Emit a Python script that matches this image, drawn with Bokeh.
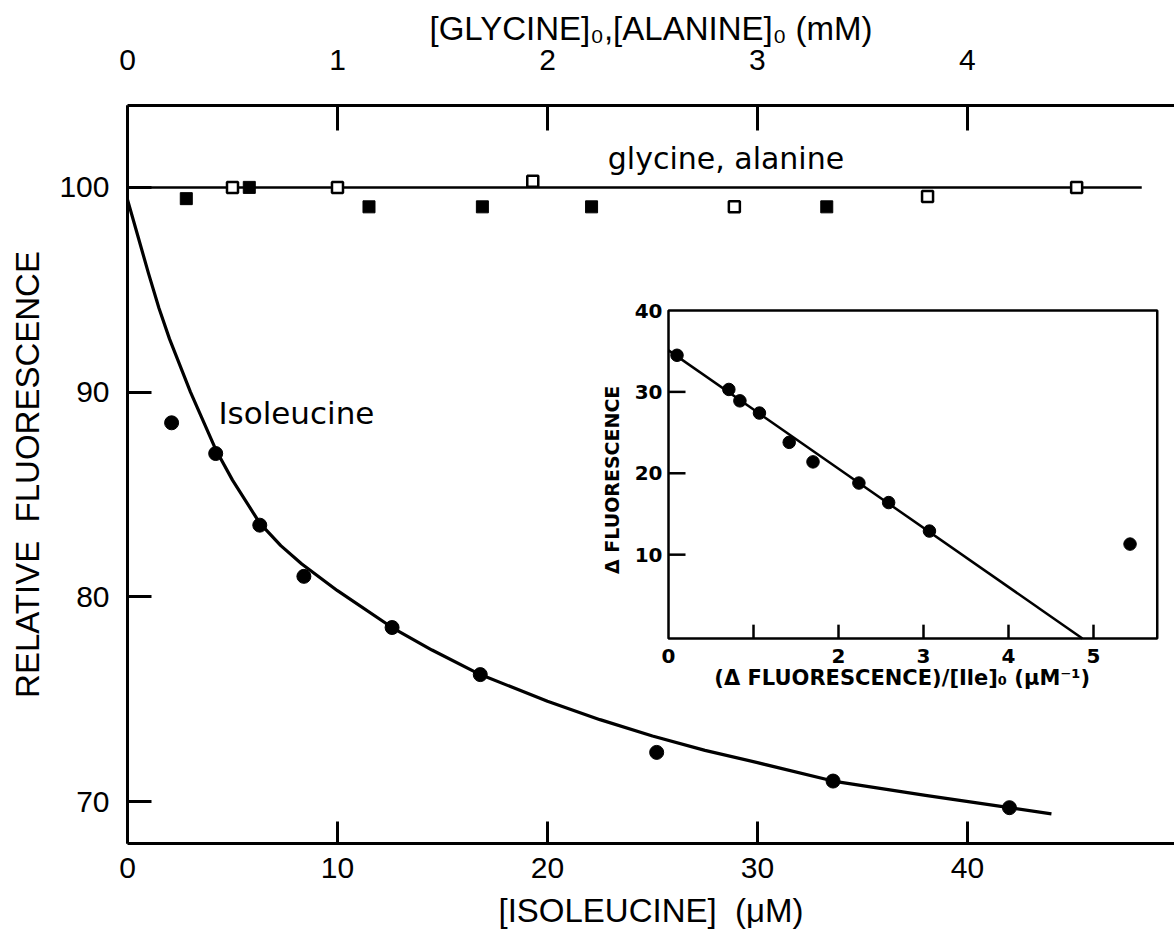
import math
from bokeh.plotting import figure
from bokeh.models import Range1d, LinearAxis, FixedTicker
from bokeh.embed import file_html
from bokeh.resources import INLINE
from bokeh.core.properties import value

# ---------------- data ----------------
# main plot: isoleucine titration (uM, relative fluorescence)
ile_conc = [2.1, 4.2, 6.3, 8.4, 12.6, 16.8, 25.2, 33.6, 42.0]
ile_fluor = [88.5, 87.0, 83.5, 81.0, 78.5, 76.2, 72.4, 71.0, 69.7]

# drawn fit curve through isoleucine data
curve_conc = [0, 0.5, 1, 1.5, 2, 3, 4.2, 5, 6.3, 7.3, 8.3, 10, 12.6, 14.5, 16.8, 20, 22.5,
              25, 27.5, 30, 33.6, 38, 42, 44]
curve_fluor = [99.4, 97.6, 95.8, 94.1, 92.6, 90.0, 87.2, 85.7, 83.6, 82.5, 81.6, 80.3, 78.5,
               77.4, 76.2, 74.9, 74.0, 73.2, 72.5, 71.9, 71.0, 70.3, 69.7, 69.4]

# glycine / alanine (mM, relative fluorescence)
gly_filled_mM = [0.28, 0.58, 1.15, 1.69, 2.21, 3.33]
gly_filled_val = [99.45, 100.0, 99.05, 99.05, 99.05, 99.05]
gly_open_mM = [0.50, 1.00, 1.93, 2.89, 3.81, 4.52]
gly_open_val = [100.0, 100.0, 100.3, 99.05, 99.55, 100.0]
gly_line_mM = [0.0, 4.83]
gly_line_val = [100.0, 100.0]

# tick values
bottom_ticks = [0, 10, 20, 30, 40]
top_ticks = [0, 1, 2, 3, 4]
left_ticks = [70, 80, 90, 100]

# inset: d-fluorescence vs d-fluorescence/[Ile]0
inset_x = [0.10, 0.71, 0.84, 1.07, 1.42, 1.70, 2.24, 2.59, 3.07, 5.43]
inset_y = [34.5, 30.3, 28.9, 27.4, 23.8, 21.4, 18.8, 16.4, 12.9, 11.3]
inset_fit_x = [0.0, 4.87]
inset_fit_y = [35.1, -0.3]
inset_xlim = [0.0, 5.75]
inset_ylim = [-0.3, 40.0]
inset_xticks = [1, 2, 3, 4, 5]
inset_xtick_labels = [0, 2, 3, 4, 5]
inset_yticks = [10, 20, 30]
inset_ytick_labels = [10, 20, 30, 40]

# ---------------- figure ----------------
MAIN_FONT = "Liberation Sans"
TEXT_FONT = "DejaVu Sans"

p = figure(width=1174, height=941,
           x_range=Range1d(0, 49.86), y_range=Range1d(67.95, 104.0),
           output_backend="svg", toolbar_location=None,
           min_border_left=127, min_border_right=0,
           min_border_top=105, min_border_bottom=98)
p.extra_x_ranges = {"mM": Range1d(0, 4.986), "ix": Range1d(-6.365, 5.953)}
p.extra_y_ranges = {"iy": Range1d(-25.49, 65.19)}
p.outline_line_color = None
p.grid.visible = False
p.background_fill_color = "white"
p.border_fill_color = "white"


def style_axis(ax, tick_in, label_standoff, axis_label_standoff):
    ax.axis_line_width = 3
    ax.axis_line_color = "black"
    ax.major_tick_line_width = 3
    ax.major_tick_line_color = "black"
    ax.major_tick_in = tick_in
    ax.major_tick_out = 0
    ax.minor_tick_line_color = None
    ax.major_label_text_font = MAIN_FONT
    ax.major_label_text_font_size = "30px"
    ax.major_label_text_color = "black"
    ax.major_label_standoff = label_standoff
    ax.axis_label_text_font = MAIN_FONT
    ax.axis_label_text_font_size = "33px"
    ax.axis_label_text_font_style = "normal"
    ax.axis_label_text_color = "black"
    ax.axis_label_standoff = axis_label_standoff


xb = p.xaxis[0]
xb.ticker = FixedTicker(ticks=bottom_ticks)
xb.axis_label = "[ISOLEUCINE]\u00a0\u00a0(μM)"
style_axis(xb, 22, 14, 11)

yl = p.yaxis[0]
yl.ticker = FixedTicker(ticks=left_ticks)
yl.axis_label = "RELATIVE\u00a0\u00a0FLUORESCENCE"
style_axis(yl, 24, 18, 10)

xt = LinearAxis(x_range_name="mM", ticker=FixedTicker(ticks=top_ticks),
                axis_label="[GLYCINE]₀,[ALANINE]₀ (mM)")
style_axis(xt, 25, 36, 0)
p.add_layout(xt, "above")

# ---------------- main data ----------------
p.line(gly_line_mM, gly_line_val, x_range_name="mM", line_color="black", line_width=2.5)
p.scatter(gly_filled_mM, gly_filled_val, x_range_name="mM", marker="square", size=12,
          fill_color="black", line_color="black", line_width=1)
p.scatter(gly_open_mM, gly_open_val, x_range_name="mM", marker="square", size=11,
          fill_color="white", line_color="black", line_width=2.5)

p.line(curve_conc, curve_fluor, line_color="black", line_width=3.2, line_join="round")
p.scatter(ile_conc, ile_fluor, marker="circle", size=14, fill_color="black", line_color="black")

p.text(x=[28.5], y=[101.4], text=["glycine, alanine"], text_font=value(TEXT_FONT),
       text_font_size="30px", text_align="center", text_baseline="alphabetic", text_color="black")
p.text(x=[4.33], y=[89.0], text=["Isoleucine"], text_font=value(TEXT_FONT),
       text_font_size="31px", text_align="left", text_baseline="middle", text_color="black")

# ---------------- inset (drawn on its own ranges) ----------------
IR = dict(x_range_name="ix", y_range_name="iy")
p.quad(left=[inset_xlim[0]], right=[inset_xlim[1]], bottom=[inset_ylim[0]], top=[inset_ylim[1]],
       fill_color="white", line_color="black", line_width=2.5, **IR)
p.segment(x0=inset_xticks, x1=inset_xticks,
          y0=[inset_ylim[0]] * len(inset_xticks), y1=[inset_ylim[0] + 1.7] * len(inset_xticks),
          line_color="black", line_width=2.5, **IR)
p.segment(x0=[inset_xlim[0]] * len(inset_yticks), x1=[inset_xlim[0] + 0.2] * len(inset_yticks),
          y0=inset_yticks, y1=inset_yticks, line_color="black", line_width=2.5, **IR)
p.line(inset_fit_x, inset_fit_y, line_color="black", line_width=2.5, **IR)
p.scatter(inset_x, inset_y, marker="circle", size=12.5, fill_color="black", line_color="black", **IR)

p.text(x=inset_xtick_labels, y=[-2.5] * len(inset_xtick_labels),
       text=[str(v) for v in inset_xtick_labels], text_font=value(TEXT_FONT),
       text_font_style="bold", text_font_size="20px", text_align="center",
       text_baseline="middle", text_color="black", **IR)
p.text(x=[inset_xlim[0]] * len(inset_ytick_labels), y=inset_ytick_labels,
       text=[str(v) for v in inset_ytick_labels], x_offset=-6, text_font=value(TEXT_FONT),
       text_font_style="bold", text_font_size="20px", text_align="right",
       text_baseline="middle", text_color="black", **IR)
p.text(x=[-0.66], y=[19.6], text=["Δ  FLUORESCENCE"], angle=math.pi / 2,
       text_font=value(TEXT_FONT), text_font_style="bold", text_font_size="19px",
       text_align="center", text_baseline="middle", text_color="black", **IR)
p.text(x=[2.75], y=[-5.1], text=["(Δ FLUORESCENCE)/[Ile]₀ (μM⁻¹)"],
       text_font=value(TEXT_FONT), text_font_style="bold", text_font_size="21px",
       text_align="center", text_baseline="middle", text_color="black", **IR)

open("out.html", "w").write(file_html(p, INLINE))
